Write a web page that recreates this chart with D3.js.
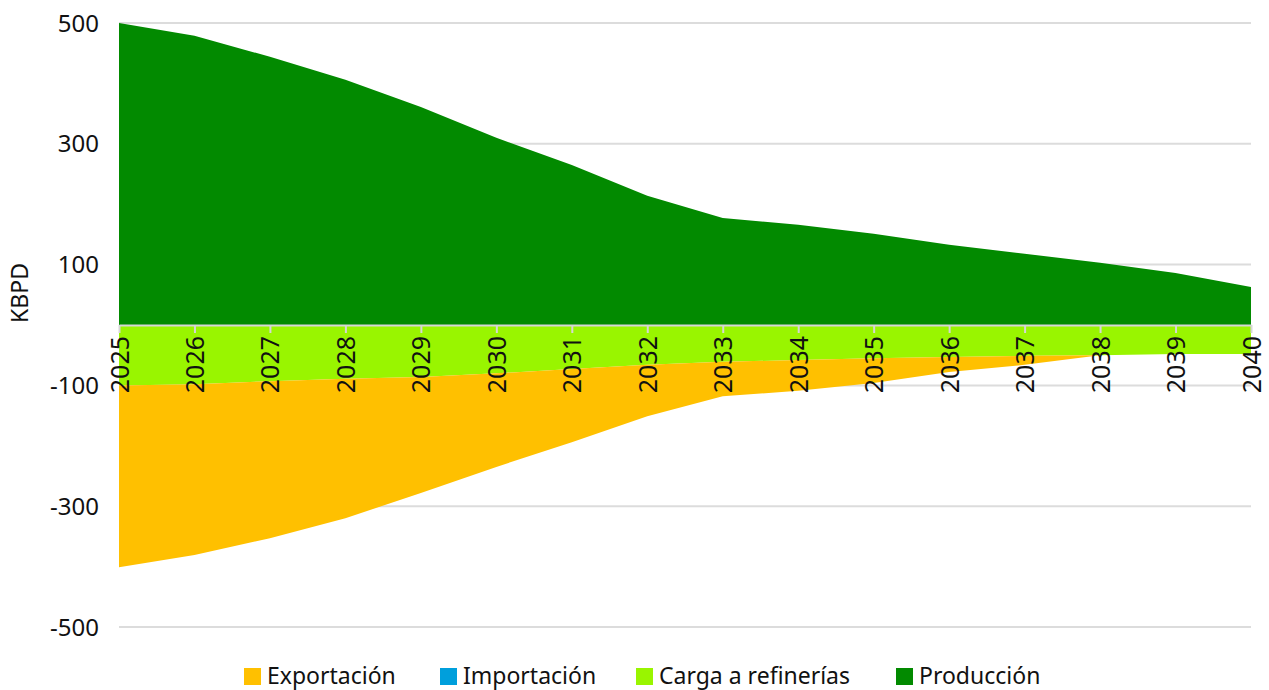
<!DOCTYPE html>
<html>
<head>
<meta charset="utf-8">
<script src="https://cdn.jsdelivr.net/npm/d3@7"></script>
<style>
  body { margin: 0; background: #fff; }
  svg { display: block; font-family: "Noto Sans", "Open Sans", sans-serif; }
  .grid line { stroke: #dcdcdc; stroke-width: 2; }
  .x_axis path, .x_axis line { stroke: #d6d6d6; stroke-width: 2; }
</style>
</head>
<body>
<svg id="chart" width="1269" height="690"></svg>
<script>
const years = [2025, 2026, 2027, 2028, 2029, 2030, 2031, 2032, 2033, 2034, 2035, 2036, 2037, 2038, 2039, 2040];
const produccion = [500, 479, 444, 406, 361, 310, 265, 214, 177, 166, 151, 133, 118, 103, 86, 63];
const cargaRefinerias = [-100, -98, -93, -89, -86, -80, -73, -66, -61, -58, -55, -53, -51, -50, -48, -48];
const importacion = [0, 0, 0, 0, 0, 0, 0, 0, 0, 0, 0, 0, 0, 0, 0, 0];
const exportacion = [-301, -283, -260, -231, -192, -155, -121, -85, -57, -51, -41, -25, -15, 0, 0, 0];
const yTicks = [500, 300, 100, -100, -300, -500];

const legendItems = [
  { name: "Exportación", color: "#ffc000" },
  { name: "Importación", color: "#009fdc" },
  { name: "Carga a refinerías", color: "#99f500" },
  { name: "Producción", color: "#028a00" }
];
const colorOf = {};
legendItems.forEach(d => colorOf[d.name] = d.color);

const rows = years.map((y, i) => ({
  year: y,
  "Producción": produccion[i],
  "Carga a refinerías": cargaRefinerias[i],
  "Importación": importacion[i],
  "Exportación": exportacion[i]
}));

const svg = d3.select("#chart");
const margin = { top: 23, right: 1251, bottom: 627, left: 119 };

const x = d3.scalePoint().domain(years).range([margin.left, margin.right]);
const y = d3.scaleLinear().domain([-500, 500]).range([margin.bottom, margin.top]);

// gridlines
svg.append("g").attr("class", "grid")
  .selectAll("line").data(yTicks).enter().append("line")
  .attr("x1", margin.left).attr("x2", margin.right)
  .attr("y1", d => y(d)).attr("y2", d => y(d));

// two stacks: positive above zero, negatives piled downward from zero
const posSeries = d3.stack().keys(["Producción"])(rows);
const negSeries = d3.stack().keys(["Carga a refinerías", "Importación", "Exportación"])(rows);
const series = negSeries.concat(posSeries);

const area = d3.area()
  .x(d => x(d.data.year))
  .y0(d => y(d[0]))
  .y1(d => y(d[1]));

svg.append("g").selectAll("path").data(series).enter().append("path")
  .attr("fill", d => colorOf[d.key])
  .attr("d", area);

// y labels
svg.append("g").selectAll("text").data(yTicks).enter().append("text")
  .attr("x", 99).attr("y", d => y(d))
  .attr("dy", "0.36em")
  .attr("text-anchor", "end")
  .attr("font-size", 24)
  .attr("fill", "#111")
  .text(d => d);

// x axis at zero
const xAxis = svg.append("g")
  .attr("class", "x_axis")
  .attr("transform", "translate(0," + y(0) + ")")
  .call(d3.axisBottom(x).tickSize(8).tickSizeOuter(0).tickFormat(d3.format("d")));
xAxis.selectAll("text")
  .attr("transform", "rotate(-90)")
  .attr("text-anchor", "end")
  .attr("x", -11)
  .attr("y", 0)
  .attr("dy", "0.36em")
  .attr("font-size", 25)
  .attr("font-family", "'Noto Sans', sans-serif")
  .attr("fill", "#111");

// y title
svg.append("text")
  .attr("transform", "translate(20,293) rotate(-90)")
  .attr("text-anchor", "middle")
  .attr("dy", "0.36em")
  .attr("font-size", 23)
  .attr("fill", "#111")
  .text("KBPD");

// legend
const legendX = [244, 440, 636, 896];
const lg = svg.append("g").selectAll("g").data(legendItems).enter().append("g")
  .attr("transform", (d, i) => "translate(" + legendX[i] + ",668)");
lg.append("rect").attr("width", 17).attr("height", 17).attr("fill", d => d.color);
lg.append("text").attr("x", 23).attr("y", 15.5)
  .attr("font-size", 23).attr("fill", "#111").text(d => d.name);
</script>
</body>
</html>
